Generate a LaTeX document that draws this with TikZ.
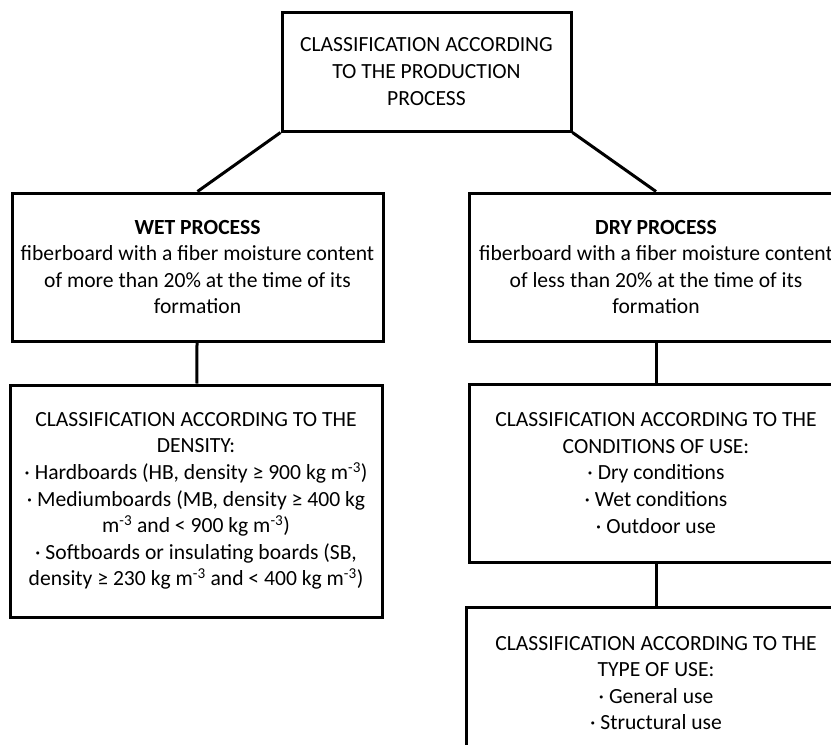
\documentclass[tikz,border=0pt]{standalone}
\usepackage{fontspec}
\setmainfont{Carlito}
\tikzset{
  box/.style = {draw, line width=3pt, align=center, inner sep=0pt,
                font=\fontsize{21.6}{26.6}\selectfont},
  link/.style = {line width=3pt}
}
\begin{document}
\begin{tikzpicture}[x=1pt, y=-1pt]
  \useasboundingbox (0,0) rectangle (831,745);
  \clip (0,0) rectangle (831,745);

  \node[box, minimum width=289pt, minimum height=119pt] (class) at (426.5,71.5)
    {CLASSIFICATION ACCORDING\\TO THE PRODUCTION\\PROCESS};
  \node[box, minimum width=371pt, minimum height=148pt] (wet) at (197.5,267)
    {\textbf{WET PROCESS}\\fiberboard with a fiber moisture content\\of more than 20\% at the time of its\\formation};
  \node[box, minimum width=373pt, minimum height=148pt] (dry) at (656,267)
    {\textbf{DRY PROCESS}\\fiberboard with a fiber moisture content\\of less than 20\% at the time of its\\formation};
  \node[box, minimum width=372pt, minimum height=232pt] (density) at (196,501)
    {CLASSIFICATION ACCORDING TO THE\\DENSITY:\\
     · Hardboards (HB, density ≥ 900 kg m\textsuperscript{-3})\\
     · Mediumboards (MB, density ≥ 400 kg\\
     m\textsuperscript{-3} and < 900 kg m\textsuperscript{-3})\\
     · Softboards or insulating boards (SB,\\
     density ≥ 230 kg m\textsuperscript{-3} and < 400 kg m\textsuperscript{-3})};
  \node[box, minimum width=374pt, minimum height=178pt] (conditions) at (656,473)
    {CLASSIFICATION ACCORDING TO THE\\CONDITIONS OF USE:\\· Dry conditions\\· Wet conditions\\· Outdoor use};
  \node[box, minimum width=380pt, minimum height=152pt] (type) at (656,683)
    {CLASSIFICATION ACCORDING TO THE\\TYPE OF USE:\\· General use\\· Structural use};

  \draw[link] (class.south west) -- (wet.north);
  \draw[link] (class.south east) -- (dry.north);
  \draw[link] (wet) -- (density);
  \draw[link] (dry) -- (conditions);
  \draw[link] (conditions) -- (type);
\end{tikzpicture}
\end{document}
